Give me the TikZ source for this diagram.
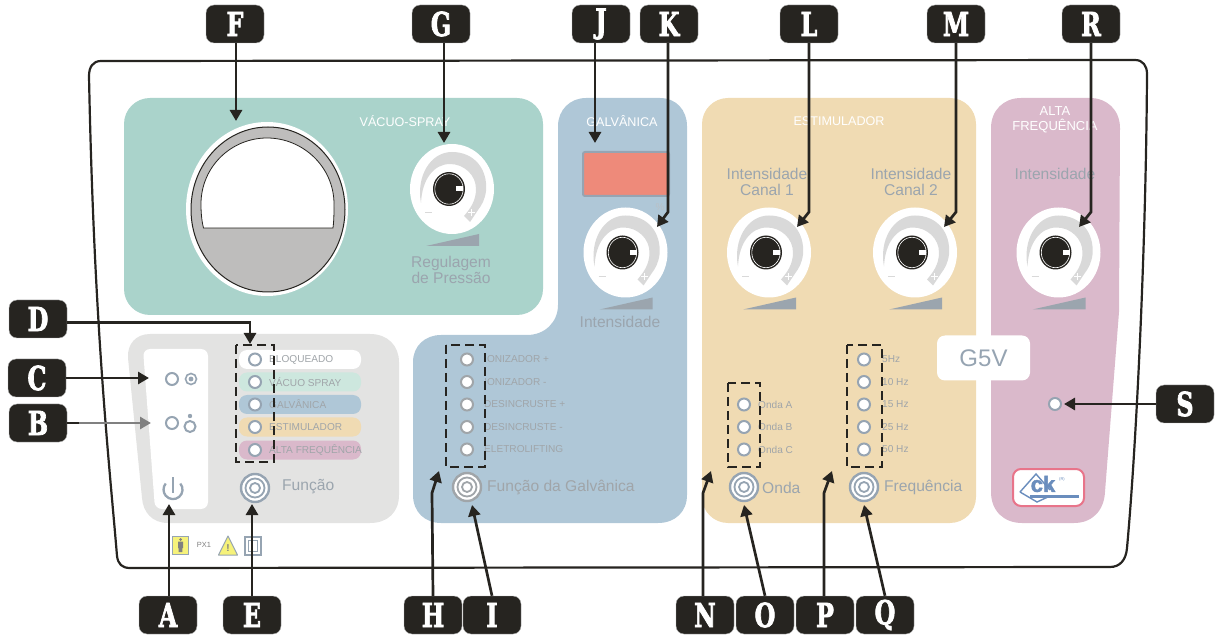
\documentclass[tikz,border=0pt]{standalone}
\usepackage{fontspec}
\setmainfont{Liberation Sans}
\newfontfamily\badgefont[FakeBold=2.5]{DejaVu Serif Condensed}
\newfontfamily\logofont[FakeBold=2]{Liberation Sans}
\usetikzlibrary{arrows.meta,calc}
\definecolor{ink}{HTML}{262420}
\definecolor{pgreen}{HTML}{AAD3CB}
\definecolor{pblue}{HTML}{AFC7D7}
\definecolor{porange}{HTML}{F0DBB3}
\definecolor{ppink}{HTML}{DAB9CB}
\definecolor{pgrey}{HTML}{E3E3E2}
\definecolor{pmint}{HTML}{CDE7DE}
\definecolor{steel}{HTML}{96A4B2}
\definecolor{soft}{HTML}{9BA5AE}
\definecolor{smalltxt}{HTML}{A0A5A9}
\definecolor{arc}{HTML}{D9D9D9}
\definecolor{gaugegrey}{HTML}{BEBDBC}
\definecolor{disp}{HTML}{EE8A7A}
\definecolor{logoblue}{HTML}{6A8DBD}
\definecolor{logopink}{HTML}{E8748A}
\definecolor{warn}{HTML}{F6F27A}
\tikzset{
  badge/.style={fill=ink,draw=gray!60,line width=0.4pt,rounded corners=8pt,minimum width=58pt,minimum height=38pt,inner sep=0pt,text=white,font=\badgefont\bfseries\fontsize{33}{33}\selectfont},
  arr/.style={draw=ink,line width=2.7pt,-{Triangle[length=11pt,width=12pt]}},
  garr/.style={draw=gray,line width=2.7pt,-{Triangle[length=11pt,width=12pt,fill=gray]}},
  dashbox/.style={draw=ink,line width=2.9pt,dash pattern=on 9pt off 5pt},
  led/.style={circle,draw=steel,line width=2pt,fill=white,minimum size=12pt,inner sep=0pt},
  ledg/.style={led,draw=smalltxt},
  small/.style={anchor=west,inner sep=0pt,text=smalltxt,font=\fontsize{10.1}{12}\selectfont},
  mid/.style={inner sep=0pt,text=soft,font=\fontsize{15.6}{16.5}\selectfont},
  midl/.style={mid,anchor=west},
  head/.style={inner sep=0pt,text=white,font=\fontsize{12.6}{15}\selectfont},
  pill/.style={rounded corners=8pt,minimum width=122pt,minimum height=19pt,inner sep=0pt},
  dial/.pic={
    \fill[white] (0,0) ellipse[x radius=42,y radius=45];
    \fill[arc] (-31,14) .. controls (-36,-12) and (-22,-37) .. (0,-37) .. controls (22,-37) and (36,-20) .. (34,2) .. controls (33,10) and (30,16) .. (26,21) -- (18,33) -- (12,27) .. controls (18,20) and (24,12) .. (24,0) .. controls (24,-14) and (12,-25) .. (-2,-25) .. controls (-18,-25) and (-30,-10) .. (-31,14) -- cycle;
    \fill[ink] (-3,0) ellipse[x radius=16,y radius=17];
    \draw[white,line width=0.6pt] (-3,0) ellipse[x radius=14.2,y radius=15.2];
    \fill[white] (4,-2.5) rectangle (11,2.5);
    \fill[soft] (-26,57) -- (27,45) -- (27,57) -- cycle;
    \draw[arc,line width=1pt] (-27,24) -- (-20,24);
    \draw[white,line width=1pt] (19,20.5) -- (19,27.5) (15.5,24) -- (22.5,24);
  },
  rings/.pic={
    \draw[#1,line width=2.4pt,fill=white] (0,0) circle[radius=14];
    \draw[#1,line width=1.8pt] (0,0) circle[radius=9.5];
    \draw[#1,line width=1.8pt] (0,0) circle[radius=5];
  }
}
\begin{document}
\begin{tikzpicture}[x=1pt,y=-1pt]
\useasboundingbox (0,0) rectangle (1219,636);
% outer frame
\draw[ink,line width=2.2pt] (101,61) -- (1135,60) .. controls (1143,60) and (1147,66) .. (1147,74) .. controls (1146,250) and (1136,450) .. (1127,548) .. controls (1126,560) and (1120,567) .. (1110,567) -- (130,568) .. controls (122,568) and (118,564) .. (117,556) .. controls (110,470) and (94,330) .. (89,76) .. controls (89,67) and (93,61) .. (101,61) -- cycle;
% panels
\fill[pgreen,rounded corners=26pt] (124,98) rectangle (543,315);
\fill[pblue] (558,126) .. controls (558,110) and (570,98) .. (586,98) -- (660,98) .. controls (676,98) and (687,110) .. (687,126) -- (687,495) .. controls (687,512) and (675,523) .. (658,523) -- (441,523) .. controls (425,523) and (413,512) .. (413,495) -- (413,362) .. controls (413,346) and (425,335) .. (441,335) -- (527,335) .. controls (545,335) and (558,322) .. (558,305) -- cycle;
\fill[porange,rounded corners=26pt] (702,98) rectangle (976,523);
\fill[ppink] (991,128) .. controls (991,110) and (1004,98) .. (1021,98) -- (1090,98) .. controls (1107,98) and (1120,110) .. (1120,128) -- (1119,312) -- (1105,492) .. controls (1104,511) and (1092,523) .. (1074,523) -- (1022,523) .. controls (1004,523) and (991,511) .. (991,492) -- cycle;
\fill[pgrey] (128,358) .. controls (127,344) and (136,334) .. (150,334) -- (370,334) .. controls (388,334) and (399,346) .. (399,362) -- (399,495) .. controls (399,512) and (388,523) .. (370,523) -- (168,523) .. controls (152,523) and (143,512) .. (142,498) -- cycle;
\fill[white,rounded corners=7pt] (143,349) -- (208,349) -- (208,509) -- (155,509) -- cycle;
% gauge
\fill[white] (267,209) ellipse[x radius=81,y radius=87];
\draw[ink,line width=1pt,fill=gaugegrey] (268,209.5) ellipse[x radius=77,y radius=82.5];
\draw[ink,line width=0.8pt,fill=white] (203.5,228) .. controls (201.5,220) and (201,212) .. (201,204) .. controls (201,167) and (231,138) .. (267,138) .. controls (303,138) and (334,167) .. (334,204) .. controls (334,212) and (334,220) .. (333,228) -- cycle;
% dials
\pic at (452,189) {dial};
\pic at (625.5,252.5) {dial};
\pic at (769,252.5) {dial};
\pic at (915,252.5) {dial};
\pic at (1058.5,252.5) {dial};
% headings
\node[head] (hVac) at (405,121) {VÁCUO-SPRAY};
\node[head] (hGal) at (622,121) {GALVÂNICA};
\node[head] (hEst) at (839,121) {ESTIMULADOR};
\node[head,align=center,font=\fontsize{13}{15}\selectfont] (hAlta) at (1055,119.5) {ALTA\\FREQUÊNCIA};
\node[mid,align=center] (tReg) at (451,270) {Regulagem\\de Pressão};
\node[mid] (tInt) at (620,322) {Intensidade};
\node[mid,align=center] (tC1) at (767,182) {Intensidade\\Canal 1};
\node[mid,align=center] (tC2) at (911,182) {Intensidade\\Canal 2};
\node[mid] (tAl) at (1055,174) {Intensidade};
\node[inner sep=0pt,text=soft!70,font=\fontsize{10}{12}\selectfont] (tPct) at (660,207) {\%};
% display
\node[draw=steel,line width=2pt,fill=disp,rounded corners=2pt,minimum width=86pt,minimum height=44pt,inner sep=0pt] (disp) at (626,174) {};
% left icons
\node[led,fill=none,minimum size=12pt] (ic1) at (172,379) {};
\node[led,line width=1.6pt,minimum size=11pt] (ic2) at (191,379) {};
\fill[steel] (ic2.center) circle[radius=2.4];
\node[led,fill=none,minimum size=12pt] (ic3) at (172,423) {};
\node[led,minimum size=11pt] (ic4) at (190,426.5) {};
\fill[steel] (190,416) circle[radius=2.2];
\draw[steel,line width=2.3pt] (180.3,483.5) arc[start angle=-40,end angle=220,radius=9.5];
\draw[steel,line width=2.3pt] (173,477) -- (173,493);
% function pills
\foreach \k/\y/\c/\t in {a/359.5/white/BLOQUEADO,b/382/pmint/VÁCUO SPRAY,c/404.5/pblue/GALVÂNICA,d/427/porange/ESTIMULADOR,e/450/ppink/ALTA FREQUÊNCIA}{
  \node[pill,fill=\c] (pill\k) at (300,\y) {};
  \node[led] (fled\k) at (255,\y) {};
  \node[small] (flab\k) at (269,\y) {\t};
}
\pic at (255,488) {rings=steel};
\node[midl] (tFun) at (282,487) {Função};
% galvanic
\foreach \k/\y/\t in {a/359.5/IONIZADOR +,b/382/IONIZADOR -,c/404.5/DESINCRUSTE +,d/427/DESINCRUSTE -,e/449.5/ELETROLIFTING}{
  \node[ledg] (gled\k) at (467,\y) {};
  \node[small] (glab\k) at (484,\y) {\t};
}
\pic at (467,487) {rings=smalltxt};
\node[midl,text=smalltxt] (tFG) at (487,487) {Função da Galvânica};
% wave
\foreach \k/\y/\t in {a/404.5/Onda A,b/427/Onda B,c/449.5/Onda C}{
  \node[led] (oled\k) at (744,\y) {};
  \node[small] (olab\k) at (758,\y) {\t};
}
\pic at (744,487) {rings=steel};
\node[midl] (tOnda) at (762,488) {Onda};
% frequency
\foreach \k/\y/\t in {a/359.5/5Hz,b/382/10 Hz,c/404.5/15 Hz,d/427/25 Hz,e/449.5/50 Hz}{
  \node[led] (qled\k) at (864,\y) {};
  \node[small] (qlab\k) at (882,\y) {\t};
}
\pic at (864,487) {rings=steel};
\node[midl] (tFrq) at (884,487) {Frequência};
% G5V
\node[fill=white,rounded corners=8pt,minimum width=93pt,minimum height=45pt,inner sep=0pt,text=steel,font=\fontsize{24}{26}\selectfont] (g5v) at (983.5,358) {G5V};
\node[led] (sled) at (1055,404) {};
% logo
\node[draw=logopink,line width=2pt,fill=white,rounded corners=8pt,minimum width=71pt,minimum height=37pt,inner sep=0pt] (logo) at (1048.5,487.5) {};
\draw[logoblue,line width=1.4pt] (1020,492) -- (1036,474) -- (1050,490) (1020,492) -- (1037,502) -- (1050,496);
\draw[logoblue,line width=3pt] (1030,496) -- (1079,496);
\node[inner sep=0pt,text=logoblue,font=\logofont\bfseries\fontsize{22}{22}\selectfont] (ck) at (1043,484) {ck};
\node[inner sep=0pt,text=logoblue,font=\fontsize{4}{4}\selectfont] (ckr) at (1062,479) {(R)};
% safety symbols
\node[draw=steel,line width=1pt,fill=warn,minimum width=16pt,minimum height=18pt,inner sep=0pt] (sym1) at (180.5,545.5) {};
\fill[gray] (180.5,539.5) circle[radius=1.5] (178,541.5) rectangle (183,548) (178.7,548) rectangle (182.3,552);
\node[inner sep=0pt,text=gray,font=\fontsize{7.5}{9}\selectfont] (tPx) at (204,545) {PX1};
\draw[steel,line width=1pt,fill=warn,line join=round] (228,536) -- (237.5,555) -- (218.5,555) -- cycle;
\node[inner sep=0pt,text=gray,font=\bfseries\fontsize{10}{10}\selectfont] (tExc) at (228,548) {!};
\node[draw=steel,line width=1.2pt,minimum width=16pt,minimum height=18pt,inner sep=0pt] (sym2) at (253,546) {};
\node[draw=steel,line width=0.8pt,minimum width=9pt,minimum height=11pt,inner sep=0pt] (sym3) at (253,546) {};
% dashed groups
\draw[dashbox] (236,345) rectangle (274,462);
\draw[dashbox] (446,345) rectangle (485,467);
\draw[dashbox] (728,383) rectangle (760,467);
\draw[dashbox] (847,345) rectangle (882,467);
% badges
\foreach \n/\x/\y in {F/235/24,G/441/24,J/601/24,K/669/24,L/809/24,M/956/24,R/1091/24,D/38/319,C/37/378,B/38/423,S/1185/404,A/168/615,E/252/615,H/433/615,I/492/615,N/705/615,O/765/615,P/825/615,Q/885/615}{
  \node[badge] (b\n) at (\x,\y) {\scalebox{0.8}[1]{\n}};
}
% connector ends
\coordinate (tF) at (236,121);
\coordinate (tG) at (444,143);
\coordinate (tJ) at (595,143);
\coordinate (kK) at (668,212); \coordinate (tK) at (657,227);
\coordinate (kL) at (809,212); \coordinate (tL) at (797,227);
\coordinate (kM) at (956,212); \coordinate (tM) at (944,227);
\coordinate (kR) at (1091,212); \coordinate (tR) at (1079,227);
\coordinate (tD) at (250,344);
\coordinate (tC) at (149,378);
\coordinate (mB) at (79,423); \coordinate (tB) at (151,423);
\coordinate (tA) at (169,504);
\coordinate (tE) at (252,504);
\coordinate (kH) at (432,493); \coordinate (tH) at (439,471);
\coordinate (tI) at (472,505);
\coordinate (kN) at (703,493); \coordinate (tN) at (711,471);
\coordinate (tO) at (744,505);
\coordinate (kP) at (824,493); \coordinate (tP) at (832,471);
\coordinate (tQ) at (864,505);
\coordinate (tS) at (1064,404);
% connectors
\draw[arr] (tF |- bF.south) -- (tF);
\draw[arr] (tG |- bG.south) -- (tG);
\draw[arr] (tJ |- bJ.south) -- (tJ);
\draw[arr] (kK |- bK.south) -- (kK) -- (tK);
\draw[arr] (bL.south) -- (kL) -- (tL);
\draw[arr] (bM.south) -- (kM) -- (tM);
\draw[arr] (bR.south) -- (kR) -- (tR);
\draw[arr] ([yshift=-3.5pt]bD.east) -| (tD);
\draw[arr] (bC.east) -- (tC);
\draw[ink,line width=2.7pt] (bB.east) -- (mB);
\draw[garr] (mB) -- (tB);
\draw[arr] (tA |- bA.north) -- (tA);
\draw[arr] (bE.north) -- (tE);
\draw[arr] (bH.north) -- (kH) -- (tH);
\draw[arr] (bI.north) -- (tI);
\draw[arr] (kN |- bN.north) -- (kN) -- (tN);
\draw[arr] (bO.north) -- (tO);
\draw[arr] (kP |- bP.north) -- (kP) -- (tP);
\draw[arr] (bQ.north) -- (tQ);
\draw[arr] (bS.west) -- (tS);
\end{tikzpicture}
\end{document}
